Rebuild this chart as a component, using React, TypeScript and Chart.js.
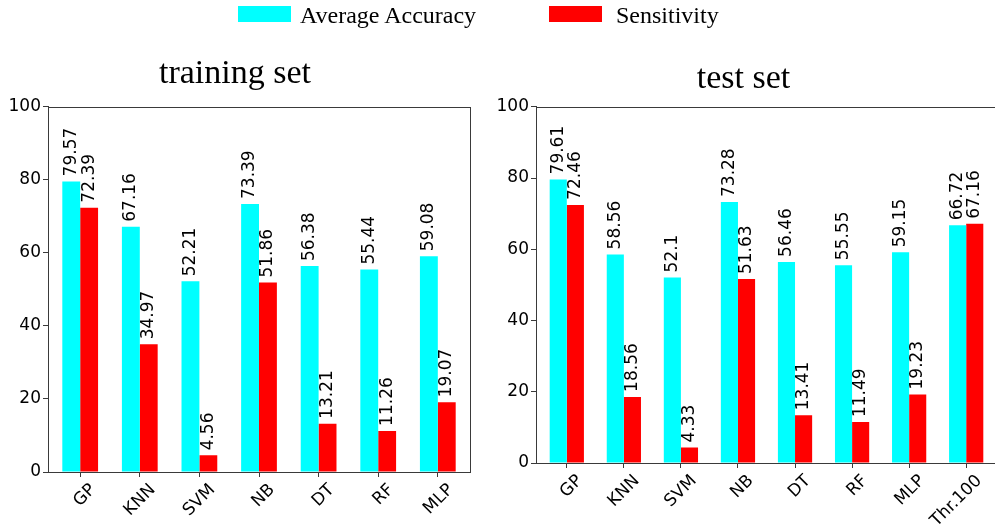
import React, { useEffect, useRef } from 'react';
import { Chart, registerables } from 'chart.js';

Chart.register(...registerables);

const seriesNames = ['Average Accuracy', 'Sensitivity'];
const seriesColors = ['#00ffff', '#ff0000'];

const trainTitle = 'training set';
const trainCategories = ['GP', 'KNN', 'SVM', 'NB', 'DT', 'RF', 'MLP'];
const trainAccuracy = [79.57, 67.16, 52.21, 73.39, 56.38, 55.44, 59.08];
const trainSensitivity = [72.39, 34.97, 4.56, 51.86, 13.21, 11.26, 19.07];

const testTitle = 'test set';
const testCategories = ['GP', 'KNN', 'SVM', 'NB', 'DT', 'RF', 'MLP', 'Thr.100'];
const testAccuracy = [79.61, 58.56, 52.1, 73.28, 56.46, 55.55, 59.15, 66.72];
const testSensitivity = [72.46, 18.56, 4.33, 51.63, 13.41, 11.49, 19.23, 67.16];

const yMin = 0;
const yMax = 100;
const yStep = 20;

const SANS = '"DejaVu Sans", sans-serif';
const SERIF = '"Liberation Serif", "Times New Roman", serif';
const SPINE = '#3a3a3a';
const X_MARGIN = 0.54;

const valueLabels = {
  id: 'valueLabels',
  afterDatasetsDraw(chart: any) {
    const ctx = chart.ctx;
    ctx.save();
    ctx.font = `17px ${SANS}`;
    ctx.fillStyle = '#000';
    ctx.textAlign = 'left';
    ctx.textBaseline = 'middle';
    chart.data.datasets.forEach((ds: any, di: number) => {
      const meta = chart.getDatasetMeta(di);
      meta.data.forEach((bar: any, i: number) => {
        ctx.save();
        ctx.translate(bar.x, bar.y - 5);
        ctx.rotate(-Math.PI / 2);
        ctx.fillText(String(ds.data[i].y), 0, 0);
        ctx.restore();
      });
    });
    ctx.restore();
  },
};

const frame = {
  id: 'frame',
  afterDatasetsDraw(chart: any) {
    const { ctx, chartArea } = chart;
    const l = Math.round(chartArea.left) + 0.5;
    const t = Math.round(chartArea.top) + 0.5;
    const r = Math.round(chartArea.right) + 0.5;
    const b = Math.round(chartArea.bottom) + 0.5;
    ctx.save();
    ctx.lineWidth = 1;
    ctx.strokeStyle = SPINE;
    ctx.strokeRect(l, t, r - l, b - t);
    ctx.restore();
  },
};

type PanelProps = {
  title: string;
  categories: string[];
  accuracy: number[];
  sensitivity: number[];
  left: number;
  width: number;
  yWidth: number;
  xHeight: number;
  padTop: number;
  titleBottom: number;
  padRight: number;
};

function Panel(p: PanelProps) {
  const ref = useRef<HTMLCanvasElement>(null);
  useEffect(() => {
    if (!ref.current) return;
    const toPoints = (vals: number[]) => vals.map((v, i) => ({ x: i, y: v }));
    const chart = new Chart(ref.current, {
      type: 'bar',
      data: {
        datasets: [
          {
            label: seriesNames[0],
            data: toPoints(p.accuracy),
            backgroundColor: seriesColors[0],
            borderWidth: 0,
            categoryPercentage: 0.6,
            barPercentage: 1.0,
          },
          {
            label: seriesNames[1],
            data: toPoints(p.sensitivity),
            backgroundColor: seriesColors[1],
            borderWidth: 0,
            categoryPercentage: 0.6,
            barPercentage: 1.0,
          },
        ],
      },
      options: {
        responsive: false,
        animation: false,
        devicePixelRatio: 1,
        layout: { padding: { top: p.padTop, right: p.padRight, left: 0, bottom: 0 } },
        plugins: {
          legend: { display: false },
          tooltip: { enabled: false },
          title: {
            display: true,
            text: p.title,
            color: '#000',
            font: { family: SERIF, size: 34, weight: 'normal', lineHeight: 1.2 },
            padding: { top: 0, bottom: p.titleBottom },
          },
        },
        scales: {
          x: {
            type: 'linear',
            min: -X_MARGIN,
            max: p.categories.length - 1 + X_MARGIN,
            offset: false,
            grid: {
              display: true,
              offset: false,
              drawOnChartArea: false,
              drawTicks: true,
              tickLength: 5,
              color: SPINE,
            },
            border: { display: true, color: SPINE },
            ticks: {
              stepSize: 1,
              includeBounds: false,
              color: '#000',
              font: { family: SANS, size: 17 },
              minRotation: 45,
              maxRotation: 45,
              autoSkip: false,
              labelOffset: 13,
              padding: 3,
              callback: (v: any) => p.categories[v] ?? '',
            },
            afterFit: (s: any) => {
              s.height = p.xHeight;
            },
          },
          y: {
            min: yMin,
            max: yMax,
            grid: {
              display: true,
              drawOnChartArea: false,
              drawTicks: true,
              tickLength: 5,
              color: SPINE,
            },
            border: { display: true, color: SPINE },
            ticks: {
              stepSize: yStep,
              color: '#000',
              font: { family: SANS, size: 17 },
              padding: 2,
            },
            afterFit: (s: any) => {
              s.width = p.yWidth;
            },
          },
        },
      },
      plugins: [frame, valueLabels],
    });
    return () => chart.destroy();
  }, []);
  return (
    <canvas
      ref={ref}
      width={p.width}
      height={532}
      style={{ position: 'absolute', left: p.left, top: 0, width: p.width, height: 532 }}
    />
  );
}

function LegendItem({ color, label, boxLeft, textLeft }: { color: string; label: string; boxLeft: number; textLeft: number }) {
  return (
    <>
      <div style={{ position: 'absolute', left: boxLeft, top: 6, width: 53, height: 16, background: color }} />
      <div
        style={{
          position: 'absolute',
          left: textLeft,
          top: 3,
          fontFamily: SERIF,
          fontSize: 24,
          lineHeight: '24px',
          whiteSpace: 'nowrap',
          color: '#000',
        }}
      >
        {label}
      </div>
    </>
  );
}

export default function App() {
  return (
    <div
      style={{
        position: 'fixed',
        left: 0,
        top: 0,
        width: 995,
        height: 532,
        overflow: 'hidden',
        background: '#fff',
      }}
    >
      <Panel
        title={trainTitle}
        categories={trainCategories}
        accuracy={trainAccuracy}
        sensitivity={trainSensitivity}
        left={0}
        width={490}
        yWidth={48}
        xHeight={60}
        padTop={54}
        titleBottom={12}
        padRight={20}
      />
      <Panel
        title={testTitle}
        categories={testCategories}
        accuracy={testAccuracy}
        sensitivity={testSensitivity}
        left={490}
        width={510}
        yWidth={46}
        xHeight={69}
        padTop={59}
        titleBottom={7}
        padRight={3}
      />
      <LegendItem color={seriesColors[0]} label={seriesNames[0]} boxLeft={238} textLeft={300} />
      <LegendItem color={seriesColors[1]} label={seriesNames[1]} boxLeft={549} textLeft={616} />
    </div>
  );
}
